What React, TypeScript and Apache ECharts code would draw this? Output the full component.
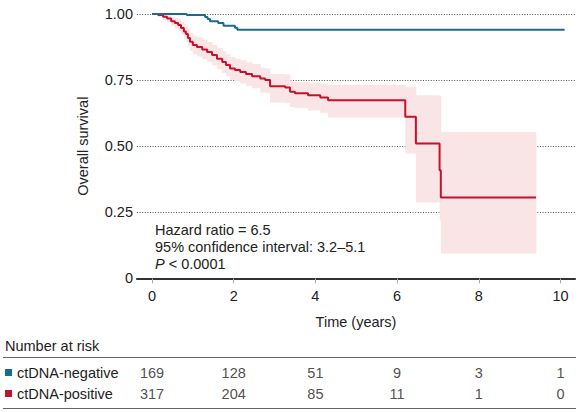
import React, { useEffect, useRef } from "react";
import * as echarts from "echarts";

// Kaplan–Meier: ctDNA-negative
const negTimes = [0, 0.85, 1.3, 1.36, 1.42, 1.62, 1.75, 2.03, 2.09, 10.1];
const negSurv = [1.0, 0.996, 0.989, 0.981, 0.973, 0.966, 0.956, 0.948, 0.94, 0.94];

// Kaplan–Meier: ctDNA-positive (with 95% CI)
const posTimes = [
  0, 0.15, 0.27, 0.37, 0.47, 0.56, 0.64, 0.71, 0.78, 0.83, 0.88, 0.93, 1.0, 1.1, 1.23, 1.35, 1.47,
  1.59, 1.72, 1.81, 1.91, 2.03, 2.16, 2.3, 2.45, 2.65, 2.77, 2.89, 3.26, 3.38, 3.5, 3.82, 4.12,
  4.31, 6.2, 6.46, 7.04, 7.07, 9.4,
];
const posSurv = [
  1.0, 0.996, 0.99, 0.983, 0.973, 0.966, 0.958, 0.947, 0.934, 0.924, 0.909, 0.895, 0.883, 0.875,
  0.866, 0.856, 0.845, 0.831, 0.818, 0.807, 0.794, 0.788, 0.781, 0.773, 0.765, 0.756, 0.75, 0.727,
  0.722, 0.706, 0.7, 0.693, 0.684, 0.674, 0.611, 0.51, 0.409, 0.306, 0.306,
];
const posUpper = [
  1.0, 1.0, 0.998, 0.995, 0.99, 0.985, 0.98, 0.972, 0.962, 0.954, 0.941, 0.929, 0.918, 0.911,
  0.903, 0.894, 0.884, 0.871, 0.859, 0.849, 0.837, 0.831, 0.825, 0.818, 0.811, 0.797, 0.794, 0.773,
  0.771, 0.745, 0.742, 0.74, 0.737, 0.731, 0.725, 0.693, 0.69, 0.554, 0.554,
];
const posLower = [
  1.0, 0.988, 0.978, 0.968, 0.955, 0.945, 0.935, 0.922, 0.906, 0.894, 0.877, 0.861, 0.848, 0.839,
  0.829, 0.818, 0.806, 0.791, 0.777, 0.765, 0.751, 0.745, 0.737, 0.728, 0.719, 0.703, 0.7, 0.665,
  0.663, 0.648, 0.644, 0.635, 0.626, 0.609, 0.472, 0.287, 0.22, 0.094, 0.094,
];

// Axis ticks
const xTicks = [0, 2, 4, 6, 8, 10];
const yTicks = [0, 0.25, 0.5, 0.75, 1.0];

// Number at risk
const riskGroups = ["ctDNA-negative", "ctDNA-positive"];
const riskTimes = [0, 2, 4, 6, 8, 10];
const riskNeg = [169, 128, 51, 9, 3, 1];
const riskPos = [317, 204, 85, 11, 1, 0];

const BLUE = "#1a6b91";
const RED = "#c8102e";
const BAND = "#f9e5e5";
const TEXT = "#222";
const FONT = "'Liberation Sans', Arial, Helvetica, sans-serif";
const FS = 14.5;

const X_MIN = -0.367;
const X_MAX = 10.355;

export default function App() {
  const ref = useRef<HTMLDivElement>(null);

  useEffect(() => {
    document.body.style.margin = "0";
    if (!ref.current) return;
    const chart = echarts.init(ref.current, null, { renderer: "svg" });

    const bandData = posTimes.slice(0, -1).map((t, i) => [t, posTimes[i + 1], posLower[i], posUpper[i]]);
    const riskData: any[] = [];
    riskTimes.forEach((t, i) => {
      riskData.push([t, riskGroups[0], riskNeg[i]]);
      riskData.push([t, riskGroups[1], riskPos[i]]);
    });

    const option: any = {
      animation: false,
      textStyle: { fontFamily: FONT },
      grid: [
        { left: 137, right: 3, top: 14, height: 264.4 },
        { left: 137, right: 3, top: 362, height: 42 },
      ],
      xAxis: [
        {
          type: "value",
          gridIndex: 0,
          min: X_MIN,
          max: X_MAX,
          name: "Time (years)",
          nameLocation: "middle",
          nameGap: 36,
          nameTextStyle: { fontSize: FS, color: TEXT, fontFamily: FONT },
          axisLine: { show: true, onZero: false, lineStyle: { color: "#333", width: 2.2 } },
          axisTick: { show: true, length: 5, lineStyle: { color: "#aaa", width: 1 }, customValues: xTicks },
          axisLabel: {
            fontSize: FS,
            color: TEXT,
            fontFamily: FONT,
            margin: 10,
            customValues: xTicks,
            formatter: (v: number) => String(v),
          },
          splitLine: { show: false },
        },
        { type: "value", gridIndex: 1, min: X_MIN, max: X_MAX, show: false },
      ],
      yAxis: [
        {
          type: "value",
          gridIndex: 0,
          min: yTicks[0],
          max: yTicks[yTicks.length - 1],
          interval: 0.25,
          name: "Overall survival",
          nameLocation: "middle",
          nameGap: 47,
          nameTextStyle: { fontSize: FS, color: TEXT, fontFamily: FONT },
          axisLine: { show: false },
          axisTick: { show: false },
          axisLabel: {
            fontSize: FS,
            color: TEXT,
            fontFamily: FONT,
            margin: 4,
            formatter: (v: number) => (v === 0 ? "0" : v.toFixed(2)),
          },
          splitLine: { show: true, lineStyle: { color: "#555", width: 1, type: [1, 1.6] } },
        },
        {
          type: "category",
          gridIndex: 1,
          data: riskGroups,
          inverse: true,
          show: false,
        },
      ],
      series: [
        {
          type: "custom",
          xAxisIndex: 0,
          yAxisIndex: 0,
          data: bandData,
          encode: { x: [0, 1], y: [2, 3] },
          renderItem: (params: any, api: any) => {
            const p0 = api.coord([api.value(0), api.value(3)]);
            const p1 = api.coord([api.value(1), api.value(2)]);
            return {
              type: "rect",
              shape: { x: p0[0], y: p0[1], width: p1[0] - p0[0] + 0.4, height: p1[1] - p0[1] },
              style: { fill: BAND },
            };
          },
          z: 1,
        },
        {
          type: "line",
          name: "ctDNA-positive",
          data: posTimes.map((t, i) => [t, posSurv[i]]),
          step: "end",
          symbol: "none",
          lineStyle: { color: RED, width: 2 },
          z: 3,
        },
        {
          type: "line",
          name: "ctDNA-negative",
          data: negTimes.map((t, i) => [t, negSurv[i]]),
          step: "end",
          symbol: "none",
          lineStyle: { color: BLUE, width: 2 },
          z: 4,
        },
        {
          type: "scatter",
          xAxisIndex: 1,
          yAxisIndex: 1,
          data: riskData,
          symbolSize: 2,
          itemStyle: { color: "rgba(0,0,0,0)" },
          label: {
            show: true,
            position: "inside",
            fontSize: FS,
            color: TEXT,
            fontFamily: FONT,
            formatter: (p: any) => String(p.value[2]),
          },
        },
      ],
      graphic: [
        {
          type: "text",
          left: 155,
          top: 221,
          style: {
            text: "Hazard ratio = 6.5\n95% confidence interval: 3.2\u20135.1\n{i|P} < 0.0001",
            fontSize: FS,
            fill: TEXT,
            fontFamily: FONT,
            lineHeight: 17,
            rich: { i: { fontStyle: "italic", fontSize: FS, fontFamily: FONT, fill: TEXT } },
          },
        },
        {
          type: "text",
          x: 5,
          y: 346,
          style: { text: "Number at risk", fontSize: FS, fill: TEXT, fontFamily: FONT, verticalAlign: "middle" },
        },
        { type: "line", shape: { x1: 3, y1: 357.5, x2: 576, y2: 357.5 }, style: { stroke: "#666", lineWidth: 1 } },
        { type: "line", shape: { x1: 3, y1: 408.5, x2: 576, y2: 408.5 }, style: { stroke: "#666", lineWidth: 1 } },
        { type: "rect", shape: { x: 5, y: 369, width: 7, height: 7 }, style: { fill: BLUE } },
        { type: "rect", shape: { x: 5, y: 390, width: 7, height: 7 }, style: { fill: RED } },
        {
          type: "text",
          x: 17,
          y: 373,
          style: { text: riskGroups[0], fontSize: FS, fill: TEXT, fontFamily: FONT, verticalAlign: "middle" },
        },
        {
          type: "text",
          x: 17,
          y: 394,
          style: { text: riskGroups[1], fontSize: FS, fill: TEXT, fontFamily: FONT, verticalAlign: "middle" },
        },
      ],
    };

    chart.setOption(option);
    return () => chart.dispose();
  }, []);

  return <div ref={ref} style={{ width: 578, height: 412 }} />;
}
